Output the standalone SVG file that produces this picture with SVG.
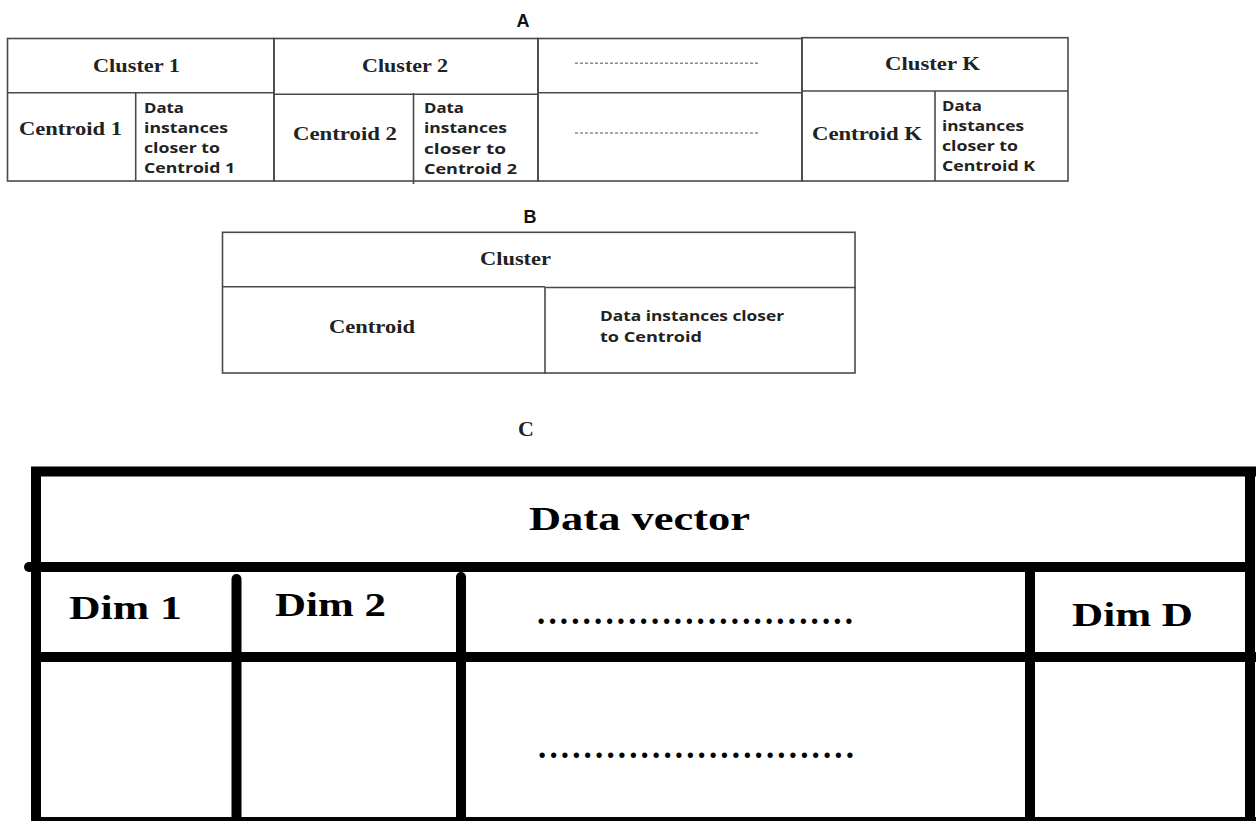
<svg xmlns="http://www.w3.org/2000/svg" width="1256" height="821" viewBox="0 0 1256 821">
<style>
.bg{fill:#ffffff}
.thin{fill:none;stroke:#4a4a4a;stroke-width:1.6}
.dash{fill:none;stroke:#8a8a8a;stroke-width:1.4;stroke-dasharray:3 2}
.thick{fill:none;stroke:#000;stroke-width:10;stroke-linecap:butt}
.rnd{stroke-linecap:round}
.lab{font-family:"Liberation Sans",Arial,sans-serif;font-weight:bold;font-size:18px;fill:#111}
.ser{font-family:"Liberation Serif","Times New Roman",serif;font-weight:bold;font-size:18px;fill:#222}
.san{font-family:"Open Sans","Liberation Sans",sans-serif;font-weight:bold;font-size:14px;fill:#222}
.big{font-family:"Liberation Serif","Times New Roman",serif;font-weight:bold;font-size:33px;fill:#000}
</style>
<rect class="bg" x="0" y="0" width="1256" height="821"/>

<g id="labels">
<text class="lab" x="523" y="27" text-anchor="middle">A</text>
<text class="lab" x="530" y="223" text-anchor="middle">B</text>
<text class="ser" x="526" y="436" text-anchor="middle" style="font-size:22px">C</text>
</g>

<g id="tableA">
<g id="cluster1">
<rect class="thin" x="7.5" y="38.5" width="266.5" height="142.5"/>
<line class="thin" x1="7.5" y1="92.7" x2="274" y2="92.7"/>
<line class="thin" x1="135.7" y1="92.7" x2="135.7" y2="181"/>
<text class="ser" x="93" y="71.5" textLength="87" lengthAdjust="spacingAndGlyphs">Cluster 1</text>
<text class="ser" x="19" y="135" textLength="103" lengthAdjust="spacingAndGlyphs">Centroid 1</text>
<text class="san" x="144" y="112.7" textLength="40" lengthAdjust="spacingAndGlyphs">Data</text>
<text class="san" x="144" y="132.7" textLength="84" lengthAdjust="spacingAndGlyphs">instances</text>
<text class="san" x="144" y="152.7" textLength="76" lengthAdjust="spacingAndGlyphs">closer to</text>
<text class="san" x="144" y="173" textLength="91" lengthAdjust="spacingAndGlyphs">Centroid 1</text>
</g>
<g id="cluster2">
<rect class="thin" x="274" y="38.5" width="264" height="142.5"/>
<line class="thin" x1="274" y1="94.3" x2="538" y2="94.3"/>
<line class="thin" x1="413.5" y1="93" x2="413.5" y2="184"/>
<text class="ser" x="362" y="72" textLength="86" lengthAdjust="spacingAndGlyphs">Cluster 2</text>
<text class="ser" x="293" y="140" textLength="104" lengthAdjust="spacingAndGlyphs">Centroid 2</text>
<text class="san" x="424" y="112.7" textLength="40" lengthAdjust="spacingAndGlyphs">Data</text>
<text class="san" x="424" y="133" textLength="83" lengthAdjust="spacingAndGlyphs">instances</text>
<text class="san" x="424" y="154" textLength="82" lengthAdjust="spacingAndGlyphs">closer  to</text>
<text class="san" x="424" y="174" textLength="93" lengthAdjust="spacingAndGlyphs">Centroid 2</text>
</g>
<g id="clusterDots">
<rect class="thin" x="538" y="38.5" width="264" height="142.5"/>
<line class="thin" x1="538" y1="92.7" x2="802" y2="92.7"/>
<line class="dash" x1="575" y1="63.3" x2="760" y2="63.3"/>
<line class="dash" x1="575" y1="133" x2="760" y2="133"/>
</g>
<g id="clusterK">
<rect class="thin" x="802" y="37.7" width="266" height="143.3"/>
<line class="thin" x1="802" y1="91" x2="1068" y2="91"/>
<line class="thin" x1="935" y1="91" x2="935" y2="181"/>
<text class="ser" x="885" y="70" textLength="95" lengthAdjust="spacingAndGlyphs">Cluster K</text>
<text class="ser" x="812" y="140" textLength="110" lengthAdjust="spacingAndGlyphs">Centroid K</text>
<text class="san" x="942" y="110.7" textLength="40" lengthAdjust="spacingAndGlyphs">Data</text>
<text class="san" x="942" y="130.7" textLength="82" lengthAdjust="spacingAndGlyphs">instances</text>
<text class="san" x="942" y="150.7" textLength="76" lengthAdjust="spacingAndGlyphs">closer to</text>
<text class="san" x="942" y="170.7" textLength="93" lengthAdjust="spacingAndGlyphs">Centroid K</text>
</g>
</g>

<g id="tableB">
<rect class="thin" x="222.5" y="232.3" width="632.5" height="140.7"/>
<line class="thin" x1="222.5" y1="286.8" x2="545" y2="286.8"/>
<line class="thin" x1="545" y1="287.5" x2="856" y2="287.5"/>
<line class="thin" x1="545" y1="287" x2="545" y2="374"/>
<text class="ser" x="480" y="265" textLength="71" lengthAdjust="spacingAndGlyphs">Cluster</text>
<text class="ser" x="329" y="333" textLength="86" lengthAdjust="spacingAndGlyphs">Centroid</text>
<text class="san" x="600" y="321" textLength="184" lengthAdjust="spacingAndGlyphs">Data instances closer</text>
<text class="san" x="600" y="342" textLength="102" lengthAdjust="spacingAndGlyphs">to Centroid</text>
</g>

<g id="tableC">
<g id="gridC">
<line class="thick" x1="31" y1="471.5" x2="1256" y2="471.5"/>
<line class="thick" x1="36" y1="467" x2="36" y2="821"/>
<line class="thick" x1="1250" y1="467" x2="1250" y2="821"/>
<line class="thick rnd" x1="29" y1="567" x2="1250" y2="567"/>
<line class="thick" x1="31" y1="657" x2="1256" y2="657"/>
<line class="thick" x1="31" y1="822" x2="1256" y2="822"/>
<line class="thick rnd" x1="236.5" y1="579" x2="236.5" y2="821"/>
<line class="thick rnd" x1="461" y1="577" x2="461" y2="821"/>
<line class="thick" x1="1030" y1="567" x2="1030" y2="821"/>
</g>
<text class="big" x="529" y="530" textLength="221" lengthAdjust="spacingAndGlyphs">Data vector</text>
<text class="big" x="69" y="619" textLength="113" lengthAdjust="spacingAndGlyphs">Dim 1</text>
<text class="big" x="275" y="616" textLength="111" lengthAdjust="spacingAndGlyphs">Dim 2</text>
<text class="big" x="1072" y="626" textLength="121" lengthAdjust="spacingAndGlyphs">Dim D</text>
<text class="big" x="537" y="624" textLength="316" lengthAdjust="spacing">............................</text>
<text class="big" x="538" y="758" textLength="316" lengthAdjust="spacing">............................</text>
</g>
</svg>
